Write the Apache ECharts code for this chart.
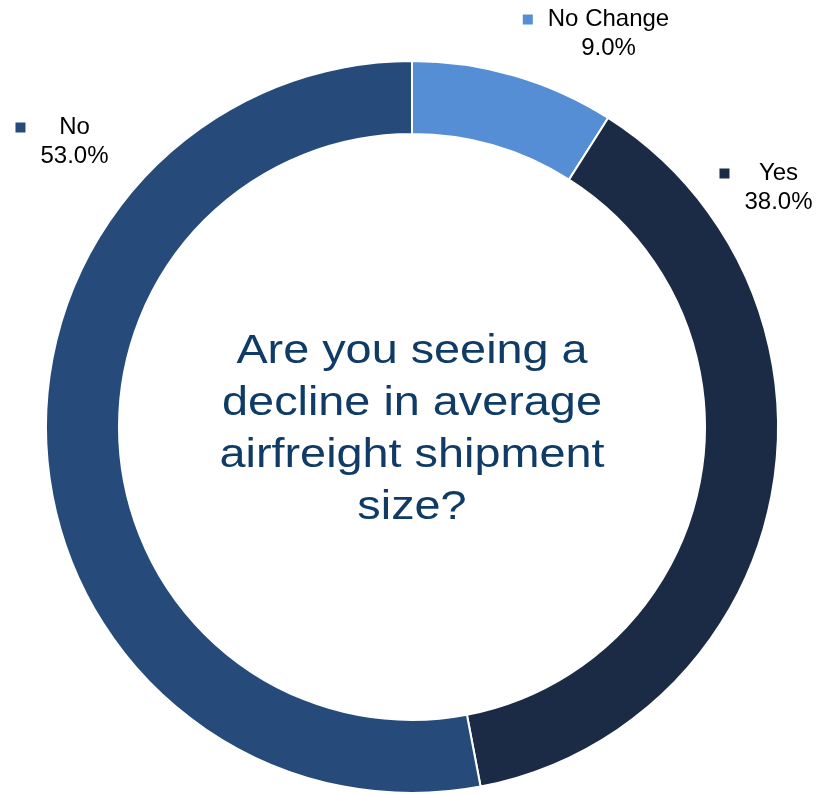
<!DOCTYPE html>
<html>
<head>
<meta charset="utf-8">
<script src="https://cdn.jsdelivr.net/npm/echarts@6/dist/echarts.min.js"></script>
<style>
  html, body { margin: 0; padding: 0; background: #ffffff; }
  #chart { width: 833px; height: 795px; }
</style>
</head>
<body>
<div id="chart"></div>
<script>
// Survey answers, clockwise from 12 o'clock
const categories = ['No Change', 'Yes', 'No'];
const shares = [9.0, 38.0, 53.0];
const sliceColors = ['#558ED5', '#1B2B45', '#264B7B'];
const question = ['Are you seeing a', 'decline in average', 'airfreight shipment', 'size?'];

// Where each callout block sits (block centre, px)
const calloutAnchor = [
  [596, 34],
  [766, 188],
  [62, 142]
];

const cx = 412, cy = 427;

const data = categories.map((name, i) => ({
  name: name,
  value: shares[i],
  itemStyle: { color: sliceColors[i] },
  label: {
    rich: {
      m: { width: 10, height: 10, backgroundColor: sliceColors[i], align: 'left' },
      g: { width: 15, height: 10, align: 'left' },
      g2: { width: 25, height: 10, align: 'left' },
      t: { fontSize: 24, fontFamily: 'Liberation Sans, Arial, sans-serif', color: '#000000', lineHeight: 29 }
    }
  }
}));

const chart = echarts.init(document.getElementById('chart'), null, { renderer: 'canvas' });

chart.setOption({
  animation: false,
  backgroundColor: '#ffffff',
  series: [{
    type: 'pie',
    center: [cx, cy],
    radius: [293, 366],
    startAngle: 90,
    clockwise: true,
    avoidLabelOverlap: false,
    itemStyle: { borderColor: '#ffffff', borderWidth: 2 },
    label: {
      show: true,
      position: 'outside',
      align: 'center',
      formatter: p => '{m|}{g|}{t|' + p.name + '}\n{g2|}{t|' + p.value.toFixed(1) + '%}',
      lineHeight: 29
    },
    labelLine: { show: false },
    labelLayout: p => ({
      x: calloutAnchor[p.dataIndex][0],
      y: calloutAnchor[p.dataIndex][1],
      align: 'center',
      verticalAlign: 'middle'
    }),
    emphasis: { disabled: true },
    data: data
  }],
  graphic: [{
    type: 'text',
    x: cx,
    y: 430,
    scaleX: 1.17,
    style: {
      text: question.join('\n'),
      fontSize: 40,
      fontFamily: 'Liberation Sans, Arial, sans-serif',
      lineHeight: 52,
      fill: '#0F3B66',
      textAlign: 'center',
      textVerticalAlign: 'middle'
    }
  }]
});
</script>
</body>
</html>
